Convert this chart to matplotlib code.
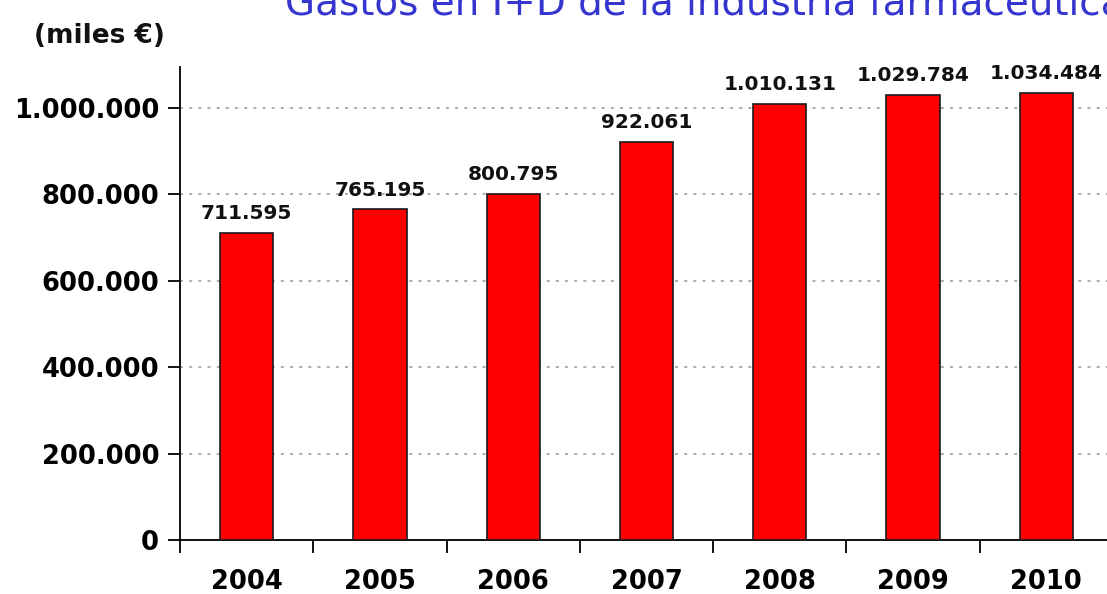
import matplotlib
matplotlib.use("Agg")
import matplotlib.pyplot as plt
from matplotlib.ticker import FixedLocator, FuncFormatter

years = ["2004", "2005", "2006", "2007", "2008", "2009", "2010"]
gasto = [711595, 765195, 800795, 922061, 1010131, 1029784, 1034484]
yticks = [0, 200000, 400000, 600000, 800000, 1000000]
title = "Gastos en I+D de la industria farmacéutica"
unit = "(miles €)"


def miles(v):
    return f"{int(v):,}".replace(",", ".")


plt.rcParams["font.family"] = ["DejaVu Sans"]
fig = plt.figure(figsize=(11.07, 5.94), dpi=100)
ax = fig.add_axes([180 / 1107, 54 / 594, 933 / 1107, 473 / 594])

x = list(range(len(years)))
ax.bar(x, gasto, width=0.4, color="#ff0000", edgecolor="#1a1a1a", linewidth=1.2, zorder=3)
for xi, v in zip(x, gasto):
    ax.annotate(miles(v), (xi, v), xytext=(0, 7), textcoords="offset points",
                ha="center", va="bottom", fontsize=14.5, fontweight="bold", color="#111111")

ax.set_xlim(-0.5, len(years) - 0.5)
ax.set_ylim(0, 1.095e6)
ax.set_yticks(yticks)
ax.yaxis.set_major_formatter(FuncFormatter(lambda v, p: miles(v)))
ax.set_xticks(x)
ax.set_xticklabels(years)
ax.xaxis.set_minor_locator(FixedLocator([i - 0.5 for i in range(len(years) + 1)]))
ax.tick_params(axis="x", which="major", length=0, pad=21, labelsize=18.5)
ax.tick_params(axis="x", which="minor", length=9, width=1.3, direction="out")
ax.tick_params(axis="y", length=9, width=1.3, pad=6, labelsize=18.5)
for lab in ax.get_xticklabels() + ax.get_yticklabels():
    lab.set_fontweight("bold")

for v in yticks[1:]:
    ax.axhline(v, color="#999999", linestyle=(0, (2, 4)), linewidth=1.1, zorder=1)

ax.spines["top"].set_visible(False)
ax.spines["right"].set_visible(False)
ax.spines["left"].set_linewidth(1.3)
ax.spines["bottom"].set_linewidth(1.3)

fig.text(34 / 1107, 1 - 43 / 594, unit, fontsize=19, fontweight="bold", color="#111111")
fig.text(285 / 1107, 1 - 15 / 594, title, fontsize=28, color="#3535d0", va="baseline")

fig.savefig("out.png", dpi=100)
